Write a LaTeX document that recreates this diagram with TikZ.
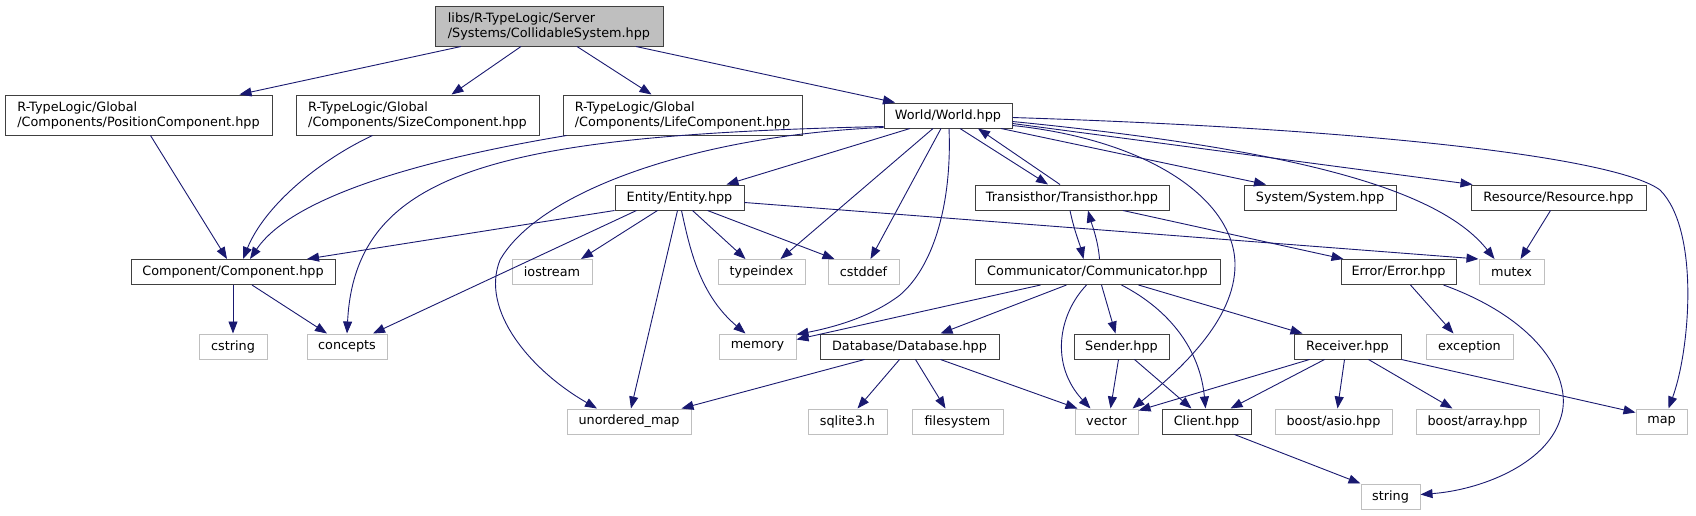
\documentclass[tikz,border=0pt]{standalone}
\usepackage{fontspec}
\setmainfont{DejaVu Sans}
\usepackage{tikz}
\usetikzlibrary{arrows.meta}

\definecolor{depblue}{HTML}{191970}
\definecolor{docline}{HTML}{404040}
\definecolor{extline}{HTML}{BFBFBF}
\definecolor{rootfill}{HTML}{BFBFBF}

\begin{document}
\begin{tikzpicture}[x=1pt, y=1pt, font=\fontsize{12.8}{15}\selectfont,
    docbox/.style={draw=docline, line width=1pt, fill=white, inner sep=0pt, minimum height=25pt},
    extbox/.style={draw=extline, line width=1pt, fill=white, inner sep=0pt, minimum height=25pt},
    twoline/.style={align=left, minimum height=40pt},
    dep/.style={draw=depblue, line width=0.9pt, -{Triangle[length=12pt, width=9pt]}}]

    \useasboundingbox (0pt, 0pt) rectangle (1696pt, -515pt);

    \node at (549pt, -26pt) (Root) [docbox, twoline, fill=rootfill, minimum width=228pt] {libs/R-TypeLogic/Server\\/Systems/CollidableSystem.hpp};

    % row 1
    \node at (138.5pt, -115pt) (Pos) [docbox, twoline, minimum width=267pt] {R-TypeLogic/Global\\/Components/PositionComponent.hpp};
    \node at (417.5pt, -115pt) (Size) [docbox, twoline, minimum width=243pt] {R-TypeLogic/Global\\/Components/SizeComponent.hpp};
    \node at (682.5pt, -115pt) (Life) [docbox, twoline, minimum width=239pt] {R-TypeLogic/Global\\/Components/LifeComponent.hpp};
    \node at (948pt, -115.5pt) (World) [docbox, minimum width=128pt] {World/World.hpp};

    % row 2
    \node at (679.5pt, -197.5pt) (Entity) [docbox, minimum width=129pt] {Entity/Entity.hpp};
    \node at (1072pt, -197.5pt) (Trans) [docbox, minimum width=194pt] {Transisthor/Transisthor.hpp};
    \node at (1320pt, -197.5pt) (System) [docbox, minimum width=152pt] {System/System.hpp};
    \node at (1558.5pt, -197.5pt) (Res) [docbox, minimum width=175pt] {Resource/Resource.hpp};

    % row 3
    \node at (233pt, -272pt) (Comp) [docbox, minimum width=204pt] {Component/Component.hpp};
    \node at (552pt, -272pt) (Iostream) [extbox, minimum width=80pt] {iostream};
    \node at (761.5pt, -272pt) (Typeidx) [extbox, minimum width=87pt] {typeindex};
    \node at (863.5pt, -272pt) (Cstddef) [extbox, minimum width=71pt] {cstddef};
    \node at (1097.5pt, -272pt) (Comm) [docbox, minimum width=245pt] {Communicator/Communicator.hpp};
    \node at (1398.5pt, -272pt) (Error) [docbox, minimum width=115pt] {Error/Error.hpp};
    \node at (1511.5pt, -272pt) (Mutex) [extbox, minimum width=65pt] {mutex};

    % row 4
    \node at (233pt, -346.5pt) (Cstring) [extbox, minimum width=68pt] {cstring};
    \node at (347pt, -346.5pt) (Concepts) [extbox, minimum width=80pt] {concepts};
    \node at (757.5pt, -346.5pt) (Memory) [extbox, minimum width=77pt] {memory};
    \node at (909.5pt, -346.5pt) (Db) [docbox, minimum width=179pt] {Database/Database.hpp};
    \node at (1121.5pt, -346.5pt) (Sender) [docbox, minimum width=95pt] {Sender.hpp};
    \node at (1347.5pt, -346.5pt) (Recv) [docbox, minimum width=107pt] {Receiver.hpp};
    \node at (1469.5pt, -346.5pt) (Exception) [extbox, minimum width=87pt] {exception};

    % row 5
    \node at (629pt, -421.5pt) (Umap) [extbox, minimum width=124pt] {unordered\_map};
    \node at (847.5pt, -421.5pt) (Sqlite) [extbox, minimum width=79pt] {sqlite3.h};
    \node at (957.5pt, -421.5pt) (Filesys) [extbox, minimum width=91pt] {filesystem};
    \node at (1106.5pt, -421.5pt) (Vector) [extbox, minimum width=63pt] {vector};
    \node at (1206.5pt, -421.5pt) (Client) [docbox, minimum width=89pt] {Client.hpp};
    \node at (1333.5pt, -421.5pt) (Asio) [extbox, minimum width=117pt] {boost/asio.hpp};
    \node at (1477.5pt, -421.5pt) (Array) [extbox, minimum width=123pt] {boost/array.hpp};
    \node at (1661.5pt, -421.5pt) (Map) [extbox, minimum width=51pt] {map};

    \node at (1390.5pt, -496.5pt) (String) [extbox, minimum width=59pt] {string};

    \path[draw, dep] ([xshift=-88pt]Root.south) -- ([xshift=101pt]Pos.north);
    \path[draw, dep] ([xshift=-28pt]Root.south) -- ([xshift=34pt]Size.north);
    \path[draw, dep] ([xshift=28pt]Root.south) -- ([xshift=-31pt]Life.north);
    \path[draw, dep] ([xshift=87pt]Root.south) -- ([xshift=-53pt]World.north);

    \path[draw, dep] ([xshift=12pt]Pos.south) -- ([xshift=-6pt]Comp.north);
    \path[draw, dep] ([xshift=-45pt]Size.south) .. controls (320pt, -160pt) and (265pt, -205pt) .. ([xshift=10pt]Comp.north);
    \path[draw, dep] ([xshift=-116pt]Life.south) .. controls (480pt, -150pt) and (300pt, -185pt) .. ([xshift=17pt]Comp.north);

    % World
    \path[draw, dep] ([yshift=2pt]World.south west) .. controls (500pt, -135pt) and (355pt, -170pt) .. (Concepts.north);
    \path[draw, dep] ([yshift=1pt]World.south west) .. controls (700pt, -135pt) and (540pt, -190pt) .. (500pt, -260pt) .. controls (480pt, -310pt) and (530pt, -370pt) .. ([xshift=-32pt]Umap.north);
    \path[draw, dep] ([xshift=-38pt]World.south) -- ([xshift=47pt]Entity.north);
    \path[draw, dep] ([xshift=-15pt]World.south) -- ([xshift=19pt]Typeidx.north);
    \path[draw, dep] ([xshift=-7pt]World.south) -- ([xshift=7pt]Cstddef.north);
    \path[draw, dep] ([xshift=1pt]World.south) .. controls (952pt, -200pt) and (935pt, -265pt) .. (900pt, -295pt) .. controls (870pt, -318pt) and (830pt, -328pt) .. ([yshift=-1pt]Memory.north east);
    \path[draw, dep] ([xshift=12pt]World.south) -- ([xshift=-24pt]Trans.north);
    \path[draw, dep] ([xshift=-12pt]Trans.north) -- ([xshift=30pt]World.south);
    \path[draw, dep] ([xshift=53pt]World.south) -- ([xshift=-54pt]System.north);
    \path[draw, dep] ([yshift=-8pt]World.east) -- ([xshift=2pt]Res.north west);
    \path[draw, dep] ([yshift=-6pt]World.east) .. controls (1300pt, -150pt) and (1440pt, -190pt) .. ([xshift=-17pt]Mutex.north);
    \path[draw, dep] ([yshift=-10pt]World.east) .. controls (1150pt, -140pt) and (1235pt, -200pt) .. (1235pt, -265pt) .. controls (1235pt, -320pt) and (1180pt, -370pt) .. ([xshift=-6pt]Vector.north east);
    \path[draw, dep] ([yshift=-2pt]World.east) .. controls (1400pt, -130pt) and (1620pt, -160pt) .. (1660pt, -190pt) .. controls (1700pt, -230pt) and (1690pt, -350pt) .. ([xshift=7pt]Map.north);

    % Entity
    \path[draw, dep] (Entity.south west) -- ([xshift=74pt]Comp.north);
    \path[draw, dep] ([xshift=-43pt]Entity.south) -- ([xshift=26pt]Concepts.north);
    \path[draw, dep] ([xshift=-22pt]Entity.south) -- ([xshift=29pt]Iostream.north);
    \path[draw, dep] ([xshift=-2pt]Entity.south) -- ([xshift=2pt]Umap.north);
    \path[draw, dep] ([xshift=2pt]Entity.south) .. controls (690pt, -250pt) and (700pt, -295pt) .. ([xshift=-12pt]Memory.north);
    \path[draw, dep] ([xshift=13pt]Entity.south) -- ([xshift=-16pt]Typeidx.north);
    \path[draw, dep] ([xshift=28pt]Entity.south) -- ([xshift=-29pt]Cstddef.north);
    \path[draw, dep] ([yshift=-5pt]Entity.east) -- (Mutex.north west);

    \path[draw, dep] ([xshift=-2pt]Trans.south) .. controls (1074pt, -230pt) and (1080pt, -245pt) .. ([xshift=-14pt]Comm.north);
    \path[draw, dep] ([xshift=2pt]Comm.north) .. controls (1098pt, -240pt) and (1092pt, -225pt) .. ([xshift=16pt]Trans.south);
    \path[draw, dep] ([xshift=51pt]Trans.south) -- ([xshift=3pt]Error.north west);
    \path[draw, dep] ([xshift=-8pt]Res.south) -- ([xshift=9pt]Mutex.north);

    \path[draw, dep] (Comp) -- (Cstring);
    \path[draw, dep] ([xshift=19pt]Comp.south) -- ([xshift=-20pt]Concepts.north);

    % Communicator
    \path[draw, dep] ([xshift=-57pt]Comm.south) -- ([yshift=-6pt]Memory.north east);
    \path[draw, dep] ([xshift=-31pt]Comm.south) -- ([xshift=31pt]Db.north);
    \path[draw, dep] ([xshift=-11pt]Comm.south) .. controls (1058pt, -315pt) and (1050pt, -365pt) .. ([xshift=-16pt]Vector.north);
    \path[draw, dep] ([xshift=4pt]Comm.south) -- ([xshift=-6pt]Sender.north);
    \path[draw, dep] ([xshift=24pt]Comm.south) .. controls (1170pt, -310pt) and (1200pt, -350pt) .. ([xshift=-1pt]Client.north);
    \path[draw, dep] ([xshift=41pt]Comm.south) -- ([xshift=-45pt]Recv.north);

    \path[draw, dep] ([xshift=-45pt]Db.south) -- ([xshift=-10pt]Umap.north east);
    \path[draw, dep] ([xshift=-10pt]Db.south) -- ([xshift=10pt]Sqlite.north);
    \path[draw, dep] ([xshift=6pt]Db.south) -- ([xshift=-12pt]Filesys.north);
    \path[draw, dep] ([xshift=31pt]Db.south) -- ([xshift=3pt]Vector.north west);

    \path[draw, dep] ([xshift=-3pt]Sender.south) -- ([xshift=4pt]Vector.north);
    \path[draw, dep] ([xshift=13pt]Sender.south) -- ([xshift=-15pt]Client.north);

    % Receiver
    \path[draw, dep] ([xshift=-38pt]Recv.south) -- ([yshift=-2pt]Vector.north east);
    \path[draw, dep] ([xshift=-23pt]Recv.south) -- ([xshift=24pt]Client.north);
    \path[draw, dep] ([xshift=-3pt]Recv.south) -- ([xshift=4pt]Asio.north);
    \path[draw, dep] ([xshift=21pt]Recv.south) -- ([xshift=-25pt]Array.north);
    \path[draw, dep] (Recv.south east) -- ([yshift=-4pt]Map.north west);

    \path[draw, dep] ([xshift=12pt]Error.south) -- ([xshift=-16pt]Exception.north);
    \path[draw, dep] ([xshift=45pt]Error.south) .. controls (1540pt, -320pt) and (1575pt, -380pt) .. (1560pt, -420pt) .. controls (1545pt, -465pt) and (1480pt, -490pt) .. ([yshift=2pt]String.east);
    \path[draw, dep] ([xshift=28pt]Client.south) -- (String.north west);

\end{tikzpicture}
\end{document}
